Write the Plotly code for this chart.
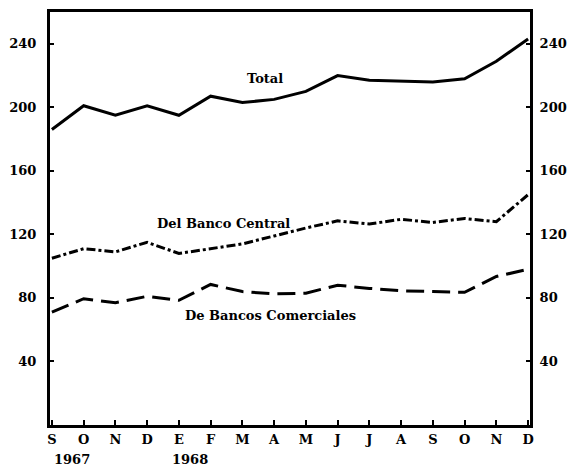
import plotly.graph_objects as go

months = ["S", "O", "N", "D", "E", "F", "M", "A", "M", "J", "J", "A", "S", "O", "N", "D"]
years = ["1967", "1968"]
year_pos = [0.63, 4.35]

total = [186, 201, 195, 201, 195, 207, 203, 205, 210, 220, 217, 216.5, 216, 218, 229, 243]
banco_central = [105, 111, 109, 115, 108, 111, 114, 119, 124, 128.5, 126.5, 129.5, 127.5, 130, 128, 145]
bancos_comerciales = [71, 79.5, 77, 81, 78.5, 88.5, 84, 82.5, 83, 88, 86, 84.5, 84, 83.5, 93.5, 98]

x = list(range(len(months)))
font = dict(family="DejaVu Serif", size=13, color="black", weight="bold")

fig = go.Figure()
fig.add_trace(go.Scatter(x=x, y=total, mode="lines",
                         line=dict(color="black", width=3)))
fig.add_trace(go.Scatter(x=x, y=banco_central, mode="lines",
                         line=dict(color="black", width=3, dash="dashdot")))
fig.add_trace(go.Scatter(x=x, y=bancos_comerciales, mode="lines",
                         line=dict(color="black", width=3, dash="18px,8px")))
# dummy trace so the right axis is drawn
fig.add_trace(go.Scatter(x=[None], y=[None], yaxis="y2", showlegend=False))

ticks = [40, 80, 120, 160, 200, 240]
# page body has an 8px margin, so the figure is a bit smaller than the window
fig.update_layout(
    width=570, height=458,
    margin=dict(l=42, r=48, t=1, b=41),
    paper_bgcolor="white", plot_bgcolor="white",
    showlegend=False,
    font=font,
    xaxis=dict(range=[-0.06, 15.06], tickvals=x, ticktext=months,
               ticks="inside", ticklen=5, tickwidth=2, tickcolor="black",
               showline=True, linewidth=3, linecolor="black", mirror=True,
               showgrid=False, zeroline=False, tickfont=font),
    yaxis=dict(range=[0, 260], tickvals=ticks, ticks="inside", ticklen=4,
               tickwidth=2, tickcolor="black", showline=True, linewidth=3,
               linecolor="black", showgrid=False, zeroline=False,
               ticklabelstandoff=8, tickfont=font),
    yaxis2=dict(range=[0, 260], tickvals=ticks, overlaying="y", side="right",
                ticks="inside", ticklen=4, tickwidth=2, tickcolor="black",
                showline=True, linewidth=3, linecolor="black", showgrid=False,
                zeroline=False, ticklabelstandoff=4, tickfont=font),
)

labels = [("Total", 6.7, 218), ("Del Banco Central", 5.4, 127), ("De Bancos Comerciales", 6.9, 69)]
for text, lx, ly in labels:
    fig.add_annotation(x=lx, y=ly, text=text, showarrow=False, font=font)

for yr, px in zip(years, year_pos):
    fig.add_annotation(x=px, y=-0.084, xref="x", yref="paper", yanchor="middle",
                       text=yr, showarrow=False, font=font)

fig.write_html("out.html")
